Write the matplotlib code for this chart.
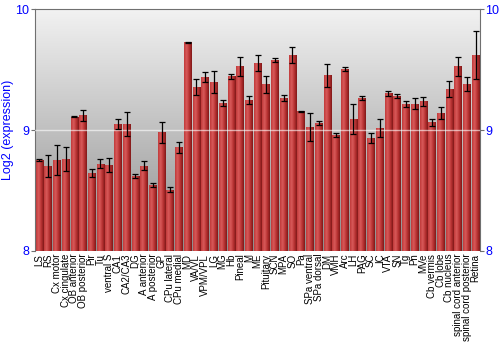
import numpy as np
import matplotlib
matplotlib.use("Agg")
import matplotlib.pyplot as plt
from matplotlib.colors import LinearSegmentedColormap

plt.rcParams['font.family'] = ['Liberation Sans', 'DejaVu Sans']

regions = ["LS", "RS", "Cx motor", "Cx cingulate", "OB anterior", "OB posterior",
           "Pir", "Tu", "ventral S", "CA1", "CA2/CA3", "DG", "A anterior",
           "A posterior", "GP", "CPu lateral", "CPu medial", "MD", "VA/VL",
           "VPM/VPL", "LG", "MG", "Hb", "Pineal", "M", "ME", "Pituitary", "SCN",
           "MPA", "SO", "Pa", "SPa ventral", "SPa dorsal", "DM", "VMH", "Arc",
           "LH", "PAG", "SC", "IC", "VTA", "SN", "Tg", "Pn", "MVe", "Cb vermis",
           "Cb lobe", "Cb nucleus", "spinal cord anterior", "spinal cord posterior",
           "Retina"]

expr = [8.751, 8.704, 8.754, 8.760, 9.111, 9.122, 8.644, 8.724, 8.710, 9.052,
        9.052, 8.622, 8.707, 8.547, 8.983, 8.508, 8.859, 9.729, 9.356, 9.439,
        9.401, 9.229, 9.445, 9.528, 9.251, 9.555, 9.381, 9.580, 9.268, 9.624,
        9.157, 9.028, 9.058, 9.456, 8.961, 9.508, 9.091, 9.265, 8.934, 9.017,
        9.304, 9.285, 9.215, 9.221, 9.238, 9.064, 9.141, 9.343, 9.530, 9.384,
        9.622]

err = [0.008, 0.088, 0.127, 0.097, 0.003, 0.043, 0.035, 0.040, 0.060, 0.041,
       0.098, 0.017, 0.035, 0.018, 0.086, 0.018, 0.046, 0.003, 0.064, 0.039,
       0.093, 0.025, 0.018, 0.081, 0.035, 0.064, 0.069, 0.018, 0.025, 0.066,
       0.003, 0.117, 0.019, 0.095, 0.018, 0.015, 0.124, 0.018, 0.043, 0.075,
       0.018, 0.017, 0.026, 0.046, 0.037, 0.032, 0.050, 0.066, 0.079, 0.058,
       0.199]

ymin, ymax = 8, 10
x = np.arange(len(regions))
width = 0.86

fig = plt.figure(figsize=(5, 3.5), dpi=100)
ax = fig.add_axes([0.07, 0.283, 0.89, 0.69])
ax.set_xlim(-0.5, len(regions) - 0.5)
ax.set_ylim(ymin, ymax)

# grey gradient background: light at top, darker at bottom
bg = np.linspace(1, 0, 256).reshape(-1, 1)
bg_cmap = LinearSegmentedColormap.from_list("bg", ["#f2f2f2", "#8e8e8e"])
ax.imshow(bg, cmap=bg_cmap, aspect="auto", origin="lower",
          extent=(-0.5, len(regions) - 0.5, ymin, ymax), zorder=0)

# bars with horizontal shading
bar_cmap = LinearSegmentedColormap.from_list("bar", ["#c03a3a", "#d85a5a", "#b83232", "#801818"])
grad = np.linspace(0, 1, 64).reshape(1, -1)
bars = ax.bar(x, np.array(expr) - ymin, width=width, bottom=ymin,
              color="#b03030", edgecolor="none", zorder=2)
for b in bars:
    bx, by = b.get_x(), b.get_y()
    im = ax.imshow(grad, cmap=bar_cmap, aspect="auto",
                   extent=(bx, bx + b.get_width(), by, by + b.get_height()), zorder=2.1)
    im.set_clip_path(b)

ax.errorbar(x, expr, yerr=err, fmt="none", ecolor="black", elinewidth=0.9,
            capsize=2, capthick=0.9, zorder=4)

ax.axhline(9, color="white", lw=1, alpha=0.6, zorder=3)

ax.set_xticks(x)
ax.set_xticklabels(regions, rotation=90, fontsize=7)
ax.set_yticks([8, 9, 10])
ax.tick_params(axis="x", length=0, pad=2)
ax.tick_params(axis="y", length=3, color="#707070", labelcolor="blue", labelsize=9,
               right=True, labelright=True, pad=1)
ax.set_ylabel("Log2 (expression)", color="blue", fontsize=9, labelpad=1)

for side in ["left", "right", "top"]:
    ax.spines[side].set_color("#707070")
ax.spines["bottom"].set_visible(False)

fig.savefig("out.png", dpi=100)
